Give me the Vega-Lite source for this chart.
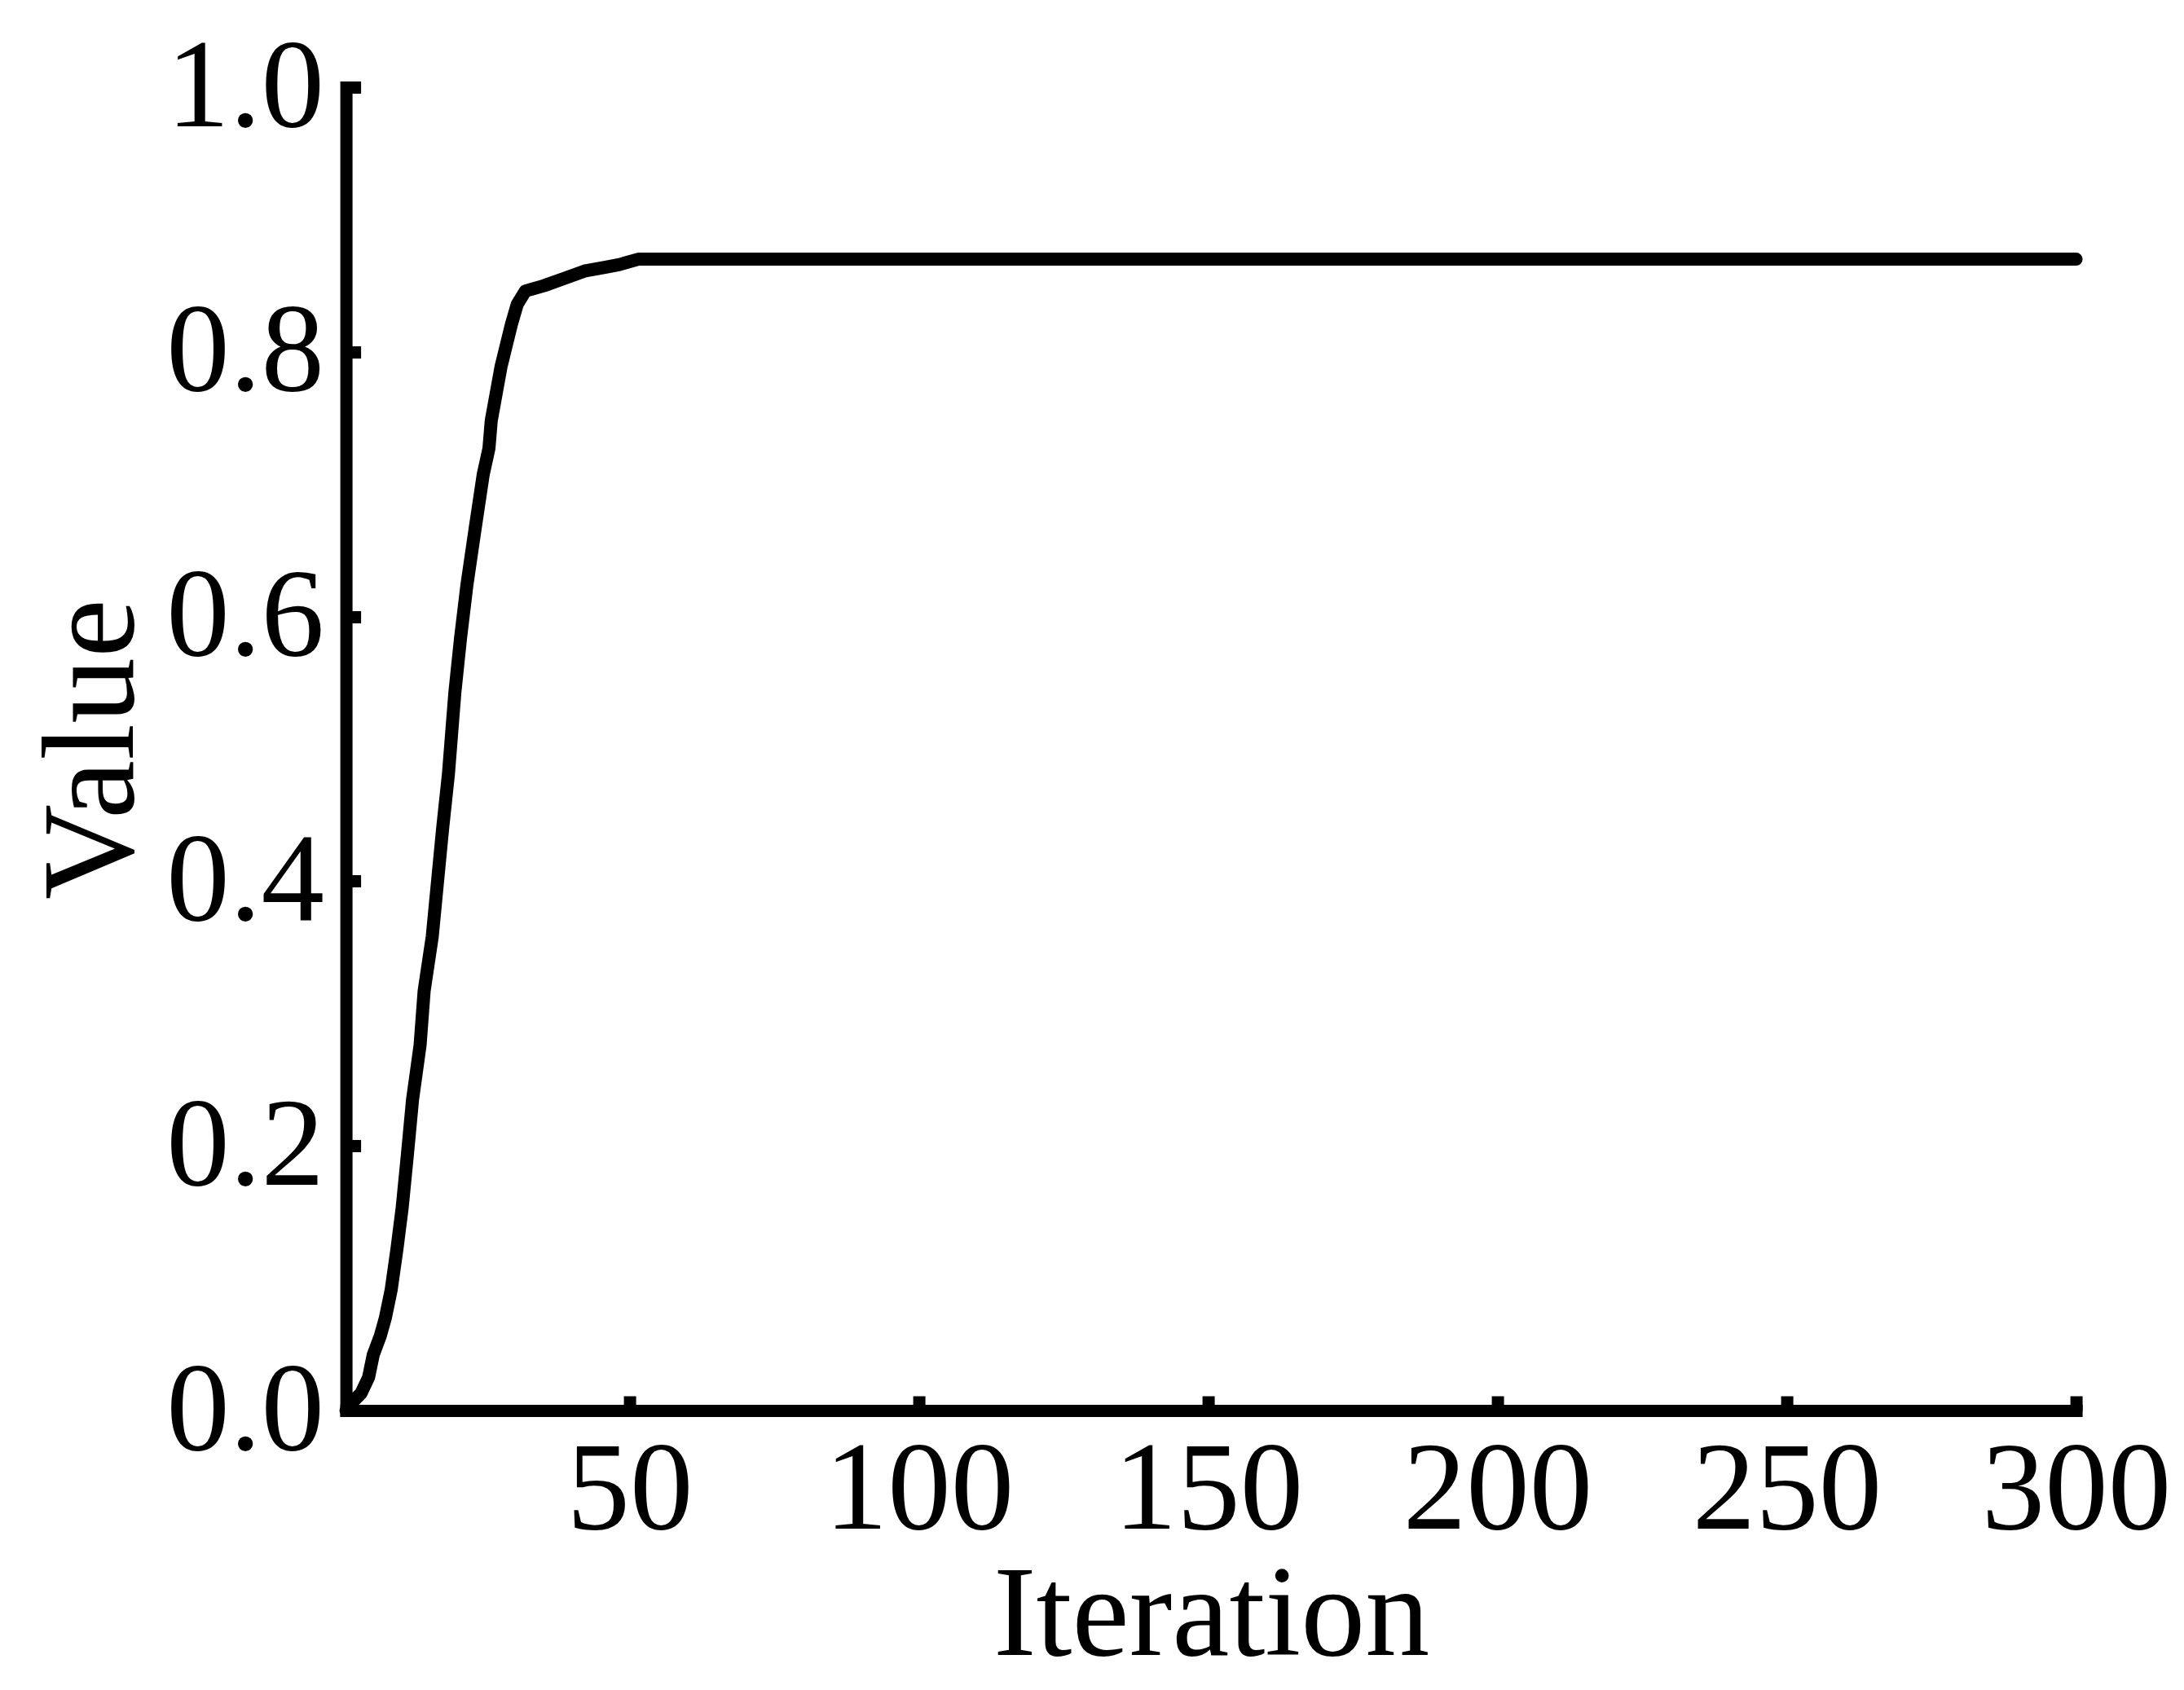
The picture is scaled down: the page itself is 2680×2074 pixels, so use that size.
{
  "$schema": "https://vega.github.io/schema/vega-lite/v6.json",
  "width": 2123,
  "height": 1624,
  "autosize": {"type": "none"},
  "padding": {"left": 424.6, "top": 107, "right": 132.4, "bottom": 343},
  "background": "white",
  "config": {"view": {"stroke": null}},
  "data": {
    "values": [
      {"iteration": 1, "value": 0},
      {"iteration": 2, "value": 0.006},
      {"iteration": 3.6, "value": 0.013},
      {"iteration": 4.9, "value": 0.025},
      {"iteration": 5.7, "value": 0.042},
      {"iteration": 6.9, "value": 0.056},
      {"iteration": 7.8, "value": 0.07},
      {"iteration": 8.8, "value": 0.091},
      {"iteration": 9.8, "value": 0.122},
      {"iteration": 10.7, "value": 0.153},
      {"iteration": 11.6, "value": 0.193},
      {"iteration": 12.5, "value": 0.235},
      {"iteration": 13.8, "value": 0.276},
      {"iteration": 14.5, "value": 0.317},
      {"iteration": 15.9, "value": 0.358},
      {"iteration": 16.8, "value": 0.399},
      {"iteration": 17.7, "value": 0.44},
      {"iteration": 18.7, "value": 0.481},
      {"iteration": 19.8, "value": 0.542},
      {"iteration": 20.8, "value": 0.584},
      {"iteration": 21.9, "value": 0.624},
      {"iteration": 23.3, "value": 0.666},
      {"iteration": 24.7, "value": 0.707},
      {"iteration": 25.7, "value": 0.727},
      {"iteration": 26.1, "value": 0.748},
      {"iteration": 27.8, "value": 0.789},
      {"iteration": 29.6, "value": 0.821},
      {"iteration": 30.6, "value": 0.836},
      {"iteration": 32, "value": 0.846},
      {"iteration": 35.2, "value": 0.85},
      {"iteration": 38.4, "value": 0.855},
      {"iteration": 42.2, "value": 0.861},
      {"iteration": 45.9, "value": 0.864},
      {"iteration": 48.3, "value": 0.866},
      {"iteration": 51.5, "value": 0.87},
      {"iteration": 300, "value": 0.87}
    ]
  },
  "mark": {"type": "line", "color": "black", "strokeWidth": 16, "strokeCap": "round", "strokeJoin": "round"},
  "encoding": {
    "x": {
      "field": "iteration", "type": "quantitative",
      "scale": {"domain": [1, 300], "nice": false, "zero": false},
      "axis": {
        "title": "Iteration", "values": [50, 100, 150, 200, 250, 300], "grid": false,
        "ticks": true, "tickSize": -18, "tickWidth": 15, "tickColor": "black", "tickCap": "butt",
        "domain": true, "domainWidth": 15, "domainColor": "black", "domainCap": "square",
        "labelFont": "Liberation Serif", "labelFontSize": 155, "labelColor": "black", "labelPadding": 40,
        "labelFlush": false, "labelOverlap": false, "labelLimit": 2000,
        "titleFont": "Liberation Serif", "titleFontSize": 158, "titleFontWeight": "normal", "titleColor": "black", "titlePadding": -1
      }
    },
    "y": {
      "field": "value", "type": "quantitative",
      "scale": {"domain": [0, 1], "nice": false},
      "axis": {
        "title": "Value", "values": [0, 0.2, 0.4, 0.6, 0.8, 1], "format": ".1f", "grid": false,
        "ticks": true, "tickSize": -18, "tickWidth": 15, "tickColor": "black", "tickCap": "butt",
        "domain": true, "domainWidth": 15, "domainColor": "black", "domainCap": "square",
        "labelFont": "Liberation Serif", "labelFontSize": 155, "labelColor": "black", "labelPadding": 45,
        "labelFlush": false, "labelOverlap": false, "labelLimit": 2000,
        "titleFont": "Liberation Serif", "titleFontSize": 162, "titleFontWeight": "normal", "titleColor": "black", "titlePadding": 28
      }
    }
  }
}
